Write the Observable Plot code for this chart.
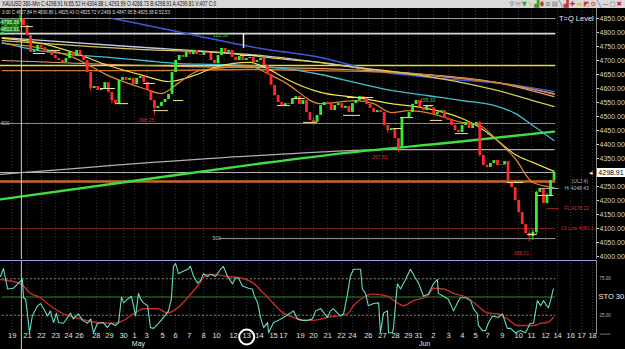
<!DOCTYPE html>
<html><head><meta charset="utf-8">
<script src="https://cdn.jsdelivr.net/npm/d3@7"></script>
<script src="https://cdn.jsdelivr.net/npm/@observablehq/plot@0.6"></script>
<style>
html,body{margin:0;padding:0;background:#000;width:625px;height:349px;overflow:hidden;font-family:"Liberation Sans",Arial,sans-serif}
#wrap{position:relative;width:625px;height:349px;background:#000;overflow:hidden}
#main{position:absolute;left:0;top:0}
#sto{position:absolute;left:0;top:259px}
#hdr{position:absolute;left:0;top:0;width:625px;height:8px;background:#d9d9d9;z-index:5;overflow:hidden}
#h1{position:absolute;left:2px;top:0;font-size:6.5px;line-height:8px;color:#111;white-space:nowrap;transform-origin:0 0}
#icons{position:absolute;right:2px;top:0;font-size:6.5px;line-height:8px;white-space:nowrap;font-family:"DejaVu Sans",sans-serif;letter-spacing:1px}
#info{position:absolute;left:2px;top:9px;font-size:5.5px;line-height:6px;color:#ddd;white-space:nowrap;z-index:5;transform-origin:0 0}
#pbox{position:absolute;left:597px;width:28px;height:9px;background:#fff;color:#000;font-size:7px;line-height:9px;text-align:center;z-index:6}
</style></head>
<body><div id="wrap">
<div id="main"></div><div id="sto"></div>
<div id="hdr"><span id="h1">XAUUSD 360-Min C:4298.91 N:65.52 H:4304.88 L:4293.99 O:4268.73 B:4298.91 A:4299.81 V:407 C:0</span><span id="icons"></span></div>
<div id="info">3:00 C:4827.84 H:4830.80 L:4825.43 O:4825.72 V:2466 S:4847.95 B:4825.38 E:52.53</div>
<div id="pbox">4298.91</div>
</div>
<script>
// ---------- DATA ----------
const firstOpen = 4790;
const closes = [
4800,4825,4829,4818,4836,4850,4825,4789,4729,4736,
4754,4746,4729,4736,4718,4707,4700,4693,4707,4729,
4714,4736,4718,4700,4657,4600,4607,4593,4600,4621,
4586,4557,4546,4629,4639,4629,4636,4614,4636,4643,
4621,4593,4557,4529,4536,4550,4561,4579,4657,4700,
4718,4711,4729,4721,4736,4721,4718,4729,4725,4700,
4689,4718,4743,4729,4736,4711,4700,4714,4700,4707,
4711,4693,4700,4707,4682,4650,4611,4575,4550,4539,
4546,4543,4564,4571,4543,4557,4514,4486,4479,4504,
4539,4550,4543,4521,4539,4546,4529,4536,4514,4546,
4557,4571,4568,4543,4529,4514,4521,4514,4468,4450,
4457,4421,4386,4493,4495,4514,4543,4557,4532,4521,
4536,4532,4507,4514,4521,4493,4486,4468,4450,4443,
4468,4479,4457,4471,4479,4361,4325,4318,4332,4343,
4325,4327,4339,4271,4246,4200,4157,4114,4082,4071,
4086,4229,4243,4189,4214,4271,4298.91];
const wicks = [[5,4862,4836],[25,4620,4590],[31,4565,4545],[43,4545,4505],[88,4495,4468],[109,4460,4440],[112,4395,4372],[135,4480,4355],[149,4090,4052],[150,4095,4058],[151,4232,4080],[154,4225,4195]];
const pivotTicks = [[5.2,8.8,4821],[8.8,12.2,4725],[13.6,16.5,4736],[27.8,32,4600],[32,35.7,4546],[40,43.3,4618],[42.8,47,4521],[48.4,51.3,4557],[67.4,72.2,4718],[77.8,81.5,4539],[82.3,85.7,4564],[85.2,89.1,4479],[97.6,105,4568],[96.5,101.3,4504],[110.6,113.2,4457],[112.6,116.3,4496],[119.1,122,4539],[121,124.5,4486],[128.1,131.8,4439],[142.8,147.4,4264],[148.5,151.3,4079],[151.3,155.9,4218]];

const maOrangeFast = [[0,4761],[10,4746],[20,4711],[30,4646],[40,4600],[45,4582],[50,4621],[55,4661],[60,4671],[70,4679],[75,4654],[80,4621],[90,4546],[100,4557],[105,4546],[110,4514],[115,4521],[120,4514],[130,4479],[135,4468],[140,4414],[145,4350],[150,4264],[156,4246]];
const maYellowFast = [[0,4779],[10,4764],[20,4729],[30,4682],[40,4646],[47,4625],[55,4650],[60,4675],[70,4693],[75,4671],[80,4636],[90,4586],[100,4568],[110,4546],[120,4529],[130,4493],[135,4461],[140,4414],[145,4364],[150,4336],[156,4304]];
const maCyan = [[0,4764],[10,4736],[20,4721],[30,4711],[40,4700],[50,4689],[60,4686],[70,4682],[80,4671],[90,4650],[100,4621],[110,4593],[120,4575],[130,4557],[140,4536],[145,4511],[150,4468],[156,4414]];
const maKhaki = [[0,4771],[20,4754],[40,4739],[60,4729],[70,4718],[80,4704],[90,4693],[100,4675],[110,4661],[120,4643],[130,4621],[140,4593],[150,4557],[156,4536]];
const maOrangeSlow = [[0,4664],[40,4664],[70,4668],[90,4664],[110,4657],[130,4636],[145,4611],[156,4579]];
const maSalmon = [[0,4700],[50,4679],[90,4671],[120,4650],[140,4621],[156,4571]];
const maBlue = [[31,4850],[34,4843],[56,4786],[73,4743],[90,4711],[105,4664],[124,4636],[141,4618],[156,4589]];
const maLavender = [[0,4782],[36,4750],[73,4718],[107,4664],[141,4618],[156,4582]];
const maGreen = [[-0.5,4204],[36,4268],[73,4332],[98,4371],[127,4407],[156,4446]];
const maGray = [[-0.5,4293],[73,4361],[110,4382],[156,4382]];

const levelPrices = [4850, 4796, 4682, 4475, 4300, 4268, 4100, 4064];
const priceTicks = [4000,4050,4100,4150,4200,4250,4350,4400,4450,4500,4550,4600,4650,4700,4750,4800,4850];
const lastPrice = 4298.91;
const cursorBar = 5.4;
const whiteMarker = [68.2, 4796, 4743];
const greenNotes = [[61.7,4789,"112.56"],[120.3,4557,"155.30"]];
const redNotes = [[40.5,4486,"-398.25"],[106.5,4354,"-397.83"],[146.5,4011,"-358.01"]];
const grayNotes = [[60.6,4064,"500"],[0.9,4475,"500"]];
const rightNotes = [[162.3,4850,"T=Q Level","#eee"],[163.3,4268,"(ULJ 4)","#bbb"],[162.4,4243,"Hi 4248.43","#bbb"],[162.4,4171,"FL 4178.22","#c33"],[162.6,4100,"13 Low 4081.1","#c33"]];
const hiLine = [152, 157.5, 4243];
const flLine = [154, 157.5, 4171];
const topBoxes = [[2.2,4836,"4795.36"],[2.2,4811,"4813.91"]];

const stochK = [[-0.5,78],[0.35,89],[1.5,61],[3.2,62],[5.2,72],[5.7,74],[6,49],[6.6,47],[7.4,15],[7.7,1],[8.5,24],[8.8,27],[10,38],[10.8,41],[11.7,34],[12.8,24],[13.6,31],[14.5,15],[15.3,28],[15.9,15],[17.3,14],[19.3,28],[20.1,20],[21.5,27],[22.7,18],[24.1,14],[25,20],[25.8,1],[26.9,14],[28.6,15],[29.7,8],[30.6,14],[32,11],[32.9,15],[33.7,50],[34.3,42],[35.4,47],[36.5,51],[37.1,38],[37.7,24],[38.5,55],[39.1,47],[39.9,42],[41.1,38],[41.9,8],[42.8,7],[44.2,14],[45.6,22],[47,31],[47.8,47],[48.4,92],[49,96],[49.8,82],[51,85],[52.4,88],[53.2,92],[54.1,78],[55.2,69],[56,72],[56.9,82],[58,78],[58.9,81],[60.3,78],[61.7,88],[62.5,92],[63.7,78],[65.1,68],[65.9,76],[66.8,76],[67.9,65],[69.6,62],[70.7,61],[71.3,51],[72.2,42],[73,22],[73.9,8],[75,15],[75.3,1],[76.7,15],[78.1,18],[79.5,22],[81.5,28],[82.3,31],[83.5,20],[84.9,18],[86.3,18],[87.7,20],[88.6,31],[90,34],[91.9,22],[92.8,31],[93.6,34],[94.8,28],[95.6,24],[96.5,27],[97.6,54],[98.4,78],[99.3,88],[101.3,88],[101.8,61],[102.7,55],[103.5,38],[105,41],[106.4,42],[106.9,1],[107.8,28],[108.9,31],[109.2,1],[110.3,1],[110.6,8],[111.7,68],[112.6,61],[114,74],[115.4,88],[116.8,76],[117.7,69],[119.1,51],[120.5,54],[121.9,68],[123,74],[123.3,55],[124.7,51],[126.1,47],[127.6,31],[128.7,42],[129.5,49],[131,49],[132.4,45],[133.2,34],[134.3,27],[134.6,11],[135.8,4],[136.6,4],[137.5,15],[138.6,24],[140.3,22],[141.4,27],[142.3,14],[142.8,7],[143.7,7],[145.1,1],[146.5,4],[147.9,1],[149.3,14],[150.2,14],[151.3,45],[152.2,38],[153,45],[154.4,35],[155,45],[155.8,61]];
const stochD = [[-0.5,74],[5.2,68],[8,55],[10.8,49],[13.6,38],[17.3,27],[22.1,20],[26.9,15],[31.4,14],[34.3,18],[37.1,27],[39.9,34],[43.9,34],[46.7,28],[49.5,35],[52.4,49],[55.2,65],[58,81],[59.7,81],[63.7,78],[67.4,76],[71,69],[73.9,55],[76.7,41],[79.5,28],[82.3,22],[85.2,18],[88,18],[91.9,22],[97.6,27],[99.3,38],[101.3,47],[105,54],[108.9,51],[111.7,42],[113.4,38],[116.3,45],[120.2,51],[121.9,62],[124.7,61],[127.6,55],[131.5,49],[134.4,38],[137.2,28],[140,27],[142.8,20],[145.7,11],[148.5,11],[150.2,11],[152.2,14],[154.1,15],[155.8,22]];
const stochLevels = [75, 50, 25];

const dateTicks = [2.8,7.1,11.1,15.1,18.7,21.8,26.6,30.3,34.3,37.4,40.8,45.3,49,52.9,56.9,60.6,65.4,69.1,72.7,76.7,79.5,84.3,88,92,95.9,99,103.5,107.5,111.2,114.8,117.7,121.9,126.2,130.1,133.8,137.2,141.4,146,149.6,153.6,157,160.7,163.8,166.9];
const dateLabels = ["19","21","22","23","24","26","28","29","30","1","3","5","6","7","8","10","12","13","14","15","17","19","20","21","22","24","26","27","28","29","31","2","3","4","5","7","9","10","11","12","14","16","17","18"];
const monthBars = [38.5, 119.4];
const monthLabels = ["May", "Jun"];
const circledDay = 69.1;

// ---------- BUILD ----------
const GREEN = "#33ee33", RED = "#ff2a2a";
const candles = closes.map((c, i) => ({b: i, open: i === 0 ? firstOpen : closes[i - 1], close: c}));
const candleColor = b => candles[b].close >= candles[b].open ? GREEN : RED;
const endBar = closes.length - 0.5;
const xDomain = [-0.5, 168];
const font = "Liberation Sans, Arial, sans-serif";
const px = d => d[0], py = d => d[1];
const maLine = (data, stroke, w) => Plot.line(data, {x: px, y: py, stroke, strokeWidth: w, curve: "monotone-x"});
const level = (i, stroke, w, x1 = -0.5) => Plot.ruleY([levelPrices[i]], {x1, x2: endBar, stroke, strokeWidth: w});

const mainPlot = Plot.plot({
  width: 625, height: 260,
  marginLeft: 0, marginRight: 29, marginTop: 8, marginBottom: 0,
  style: {background: "#000", color: "#ddd", fontFamily: font, fontSize: "8px", overflow: "visible"},
  x: {domain: xDomain, axis: null},
  y: {domain: [4000, 4850], range: [256, 18], axis: null},
  marks: [
    Plot.ruleX(dateTicks, {stroke: "#3a3a3a", strokeDasharray: "1,2"}),
    level(0, "#9a9a9a", 1),
    level(1, "#d8d8d8", 1.6),
    level(2, "#e6dc3c", 1.4),
    level(3, "#8a8a8a", 1),
    level(4, "#b5b5b5", 1),
    level(5, "#c8682a", 2.6),
    level(6, "#7a1c1c", 1),
    level(7, "#9a9a9a", 1, 61.5),
    maLine(maGray, "#b0b0b0", 1.2),
    maLine(maGreen, "#3ce03c", 2.4),
    maLine(maLavender, "#c4c4e4", 1.3),
    maLine(maBlue, "#3c5ad8", 1.5),
    maLine(maSalmon, "#e8a07c", 1.1),
    maLine(maOrangeSlow, "#d07a2e", 1.4),
    maLine(maKhaki, "#d8c85a", 1.3),
    maLine(maCyan, "#3ec0d0", 1.3),
    maLine(maYellowFast, "#f0e048", 1.2),
    maLine(maOrangeFast, "#e0862a", 1.2),
    Plot.ruleX(wicks, {x: px, y1: d => d[1], y2: d => d[2], stroke: d => candleColor(d[0]), strokeWidth: 1}),
    Plot.ruleX(candles, {x: "b", y1: "open", y2: "close", stroke: d => d.close >= d.open ? GREEN : RED, strokeWidth: 2.8}),
    Plot.ruleY(pivotTicks, {x1: d => d[0], x2: d => d[1], y: d => d[2], stroke: "#f2e898", strokeWidth: 1}),
    Plot.ruleY([hiLine], {x1: d => d[0], x2: d => d[1], y: d => d[2], stroke: "#aaa", strokeWidth: 1}),
    Plot.ruleY([flLine], {x1: d => d[0], x2: d => d[1], y: d => d[2], stroke: "#a02020", strokeWidth: 1}),
    Plot.ruleX([whiteMarker], {x: px, y1: d => d[1], y2: d => d[2], stroke: "#eee", strokeWidth: 1.5}),
    Plot.ruleX([cursorBar], {stroke: "#cfcfcf", strokeWidth: 1}),
    Plot.text(greenNotes, {x: px, y: py, text: d => d[2], fill: "#4c4", fontSize: 5}),
    Plot.text(redNotes, {x: px, y: py, text: d => d[2], fill: "#c33", fontSize: 5}),
    Plot.text(grayNotes, {x: px, y: py, text: d => d[2], fill: "#bbb", fontSize: 5}),
    Plot.text(rightNotes, {x: px, y: py, text: d => d[2], fill: d => d[3], fontSize: d => d[2] === "T=Q Level" ? 7.5 : 5}),
    Plot.text(topBoxes, {x: px, y: py, text: d => d[2], fill: "#dfffdf", stroke: "#1a7a1a", strokeWidth: 3, paintOrder: "stroke", fontSize: 5}),
    Plot.text([lastPrice], {y: d => d, frameAnchor: "right", dx: -4, text: () => "◂", fill: "#eee", fontSize: 7}),
    Plot.axisY(priceTicks, {anchor: "right", tickFormat: d3.format(".2f"), tickSize: 2, tickPadding: 1, fontSize: 7, color: "#d4d4d4"}),
    Plot.frame({anchor: "right", stroke: "#888"})
  ]
});
document.getElementById("main").append(mainPlot);

const stoPlot = Plot.plot({
  width: 625, height: 90,
  marginLeft: 0, marginRight: 29, marginTop: 1, marginBottom: 16,
  style: {background: "#000", color: "#ddd", fontFamily: font, fontSize: "8px", overflow: "visible"},
  x: {domain: xDomain, axis: null},
  y: {domain: [0, 100], axis: null},
  marks: [
    Plot.ruleX(dateTicks, {stroke: "#3a3a3a", strokeDasharray: "1,2"}),
    Plot.ruleY([stochLevels[0], stochLevels[2]], {x2: endBar, stroke: "#8a8a8a", strokeDasharray: "2,2"}),
    Plot.ruleY([stochLevels[1]], {x2: endBar, stroke: "#2a8a2a", strokeWidth: 1}),
    Plot.line(stochD, {x: px, y: py, stroke: "#c42a2a", strokeWidth: 1.4, curve: "monotone-x"}),
    Plot.line(stochK, {x: px, y: py, stroke: "#62dcc4", strokeWidth: 1.1}),
    Plot.ruleX([cursorBar], {stroke: "#cfcfcf", strokeWidth: 1, insetBottom: -16}),
    Plot.text(stochLevels.filter(v => v !== 50), {y: d => d, frameAnchor: "right", dx: 3, textAnchor: "start", text: d => d3.format(".2f")(d), fill: "#bbb", fontSize: 4.5}),
    Plot.text([stochLevels[1]], {y: d => d, frameAnchor: "right", dx: 2, textAnchor: "start", text: () => "STO 30,", fill: "#eee", fontSize: 7.5}),
    Plot.text(dateTicks, {x: d => d, text: (d, i) => dateLabels[i], frameAnchor: "bottom", dy: 4.5, fill: "#e0e0e0", fontSize: 7.5}),
    Plot.text(monthBars, {x: d => d, text: (d, i) => monthLabels[i], frameAnchor: "bottom", dy: 12.5, fill: "#e0e0e0", fontSize: 7}),
    Plot.dot([circledDay], {x: d => d, frameAnchor: "bottom", dy: 3.5, r: 7.5, stroke: "#fff", strokeWidth: 2, fill: "none"}),
    Plot.text(["▫▫▫▫▫"], {frameAnchor: "bottom-right", dx: 14, dy: 2, text: d => d, fill: "#bbb", fontSize: 6}),
    Plot.frame({anchor: "top", stroke: "#9a9ad8", strokeWidth: 1.2}),
    Plot.frame({anchor: "right", stroke: "#888"})
  ]
});
document.getElementById("sto").append(stoPlot);

// current price box positioned via the plot's own y scale
const yPos = mainPlot.scale("y").apply(lastPrice);
document.getElementById("pbox").style.top = (yPos - 4.5) + "px";

// header text fitting
function fit(id, w) {
  const el = document.getElementById(id);
  const r = el.getBoundingClientRect().width;
  el.style.transform = `scaleX(${w / r})`;
}
fit("h1", 214);
fit("info", 168);
const icons = [["⚲","#666"],["✉","#a6a"],["▼","#3a3"],["✎","#cc3"],["▟","#393"],["⬮","#c33"],["⊝","#555"],["▤","#777"],["╲","#35a"],["▟","#c33"],["✚","#c22"],["▬","#cc2"],["◩","#c33"],["✿","#c63"],["╲","#35a"],["—","#555"],["▢","#777"],["✖","#c22"]];
document.getElementById("icons").innerHTML = icons.map(([g, c]) => `<span style="color:${c}">${g}</span>`).join("");
</script>
</body></html>
